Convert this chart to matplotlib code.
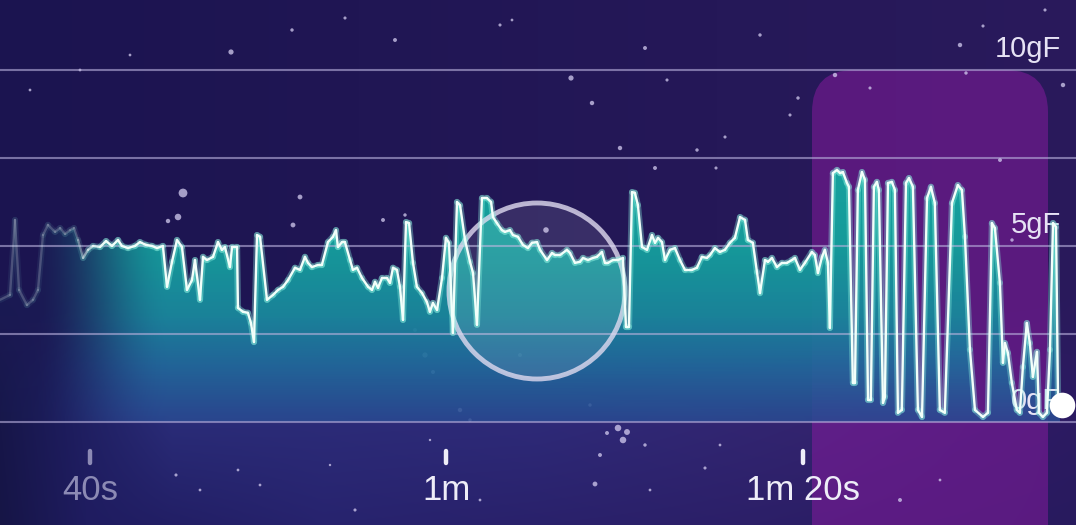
import numpy as np
import matplotlib
matplotlib.use("Agg")
import matplotlib.pyplot as plt
from matplotlib.patches import Polygon, FancyBboxPatch, Circle
from matplotlib.collections import LineCollection
from matplotlib.colors import to_rgb

# ---------------- data ----------------
time_s = [34.95, 35.51, 35.79, 36.02, 36.46, 36.80, 37.08, 37.36, 37.64, 38.04, 38.32, 38.60, 38.88, 39.10, 39.33,
          39.61, 39.89, 40.17, 40.56, 40.90, 41.23, 41.57, 41.79, 42.13, 42.52, 42.80, 43.14, 43.48, 43.76, 44.09,
          44.32, 44.60, 44.88, 45.16, 45.44, 45.72, 45.89, 46.17, 46.34, 46.56, 46.90, 47.18, 47.40, 47.57, 47.85,
          47.97, 48.25, 48.30, 48.58, 48.86, 49.03, 49.20, 49.37, 49.54, 49.93, 50.27, 50.55, 50.83, 51.11, 51.50,
          51.78, 52.06, 52.23, 52.45, 52.79, 53.01, 53.35, 53.63, 53.80, 53.91, 54.14, 54.30, 54.59, 54.75, 54.98,
          55.26, 55.60, 55.82, 55.99, 56.16, 56.38, 56.66, 56.83, 57.00, 57.22, 57.39, 57.56, 57.73, 57.90, 58.12,
          58.34, 58.63, 58.90, 59.07, 59.24, 59.47, 59.75, 59.97, 60.14, 60.36, 60.59, 60.76, 61.04, 61.32, 61.49,
          61.71, 61.99, 62.27, 62.50, 62.61, 62.83, 63.11, 63.28, 63.56, 63.73, 64.01, 64.29, 64.57, 64.80, 65.08,
          65.25, 65.64, 65.92, 66.09, 66.37, 66.76, 66.93, 67.21, 67.49, 67.66, 67.94, 68.22, 68.44, 68.72, 68.89,
          69.06, 69.34, 69.62, 69.90, 70.07, 70.24, 70.41, 70.57, 70.74, 70.97, 71.25, 71.53, 71.70, 71.87, 72.09,
          72.26, 72.54, 72.82, 73.10, 73.38, 73.77, 74.05, 74.33, 74.61, 74.78, 75.06, 75.34, 75.62, 75.90, 76.18,
          76.47, 76.75, 76.91, 77.19, 77.42, 77.59, 77.87, 78.04, 78.26, 78.54, 78.82, 79.10, 79.38, 79.55, 79.83,
          80.11, 80.50, 80.67, 80.84, 81.07, 81.23, 81.40, 81.51, 81.68, 81.91, 82.08, 82.24, 82.47, 82.58, 82.80,
          82.92, 83.08, 83.31, 83.48, 83.65, 83.81, 83.98, 84.15, 84.26, 84.49, 84.60, 84.77, 84.99, 85.16, 85.33,
          85.55, 85.78, 85.95, 86.17, 86.45, 86.68, 86.96, 87.18, 87.40, 87.68, 87.96, 88.36, 88.69, 88.92, 89.09,
          89.37, 89.65, 90.10, 90.38, 90.60, 90.77, 91.05, 91.22, 91.33, 91.50, 91.72, 92.00, 92.17, 92.34, 92.56,
          92.73, 92.90, 93.13, 93.24, 93.46, 93.69, 93.86, 94.03, 94.20, 94.31, 94.42]

force_gf = [3.47, 3.61, 5.74, 3.75, 3.32, 3.47, 3.75, 5.31, 5.60, 5.40, 5.51, 5.34, 5.45, 5.51, 5.17,
            4.66, 4.89, 5.00, 4.97, 5.14, 5.00, 5.17, 5.00, 4.94, 5.00, 5.11, 5.03, 5.00, 4.94, 5.00,
            3.84, 4.55, 5.17, 4.97, 3.75, 4.03, 4.60, 3.47, 4.69, 4.60, 4.69, 5.11, 4.89, 4.97, 4.40,
            4.97, 4.97, 3.24, 3.13, 3.10, 2.81, 2.27, 5.31, 5.26, 3.47, 3.61, 3.75, 3.84, 4.03, 4.38,
            4.32, 4.69, 4.52, 4.40, 4.46, 4.46, 5.11, 5.26, 5.45, 4.97, 5.11, 5.11, 4.60, 4.32, 4.38,
            4.09, 3.84, 3.75, 3.98, 3.81, 4.09, 4.09, 3.95, 4.38, 4.32, 3.84, 2.90, 5.68, 5.65, 4.52,
            3.84, 3.66, 3.41, 3.13, 3.38, 3.18, 4.09, 5.23, 5.09, 2.53, 6.25, 6.16, 5.17, 4.55, 4.23,
            2.76, 6.36, 6.36, 6.25, 5.82, 5.65, 5.45, 5.40, 5.45, 5.31, 5.26, 5.03, 4.94, 5.09, 5.11,
            4.89, 4.60, 4.80, 4.74, 4.74, 4.89, 4.80, 4.52, 4.55, 4.66, 4.60, 4.66, 4.69, 4.83, 4.52,
            4.52, 4.60, 4.60, 4.66, 2.70, 2.70, 6.53, 6.51, 6.16, 4.97, 4.89, 5.31, 5.09, 5.23, 5.11,
            4.60, 4.89, 4.94, 4.60, 4.32, 4.32, 4.38, 4.69, 4.66, 4.74, 4.94, 4.83, 4.89, 5.09, 5.23,
            5.82, 5.74, 5.17, 5.09, 4.26, 3.66, 4.60, 4.55, 4.66, 4.40, 4.52, 4.52, 4.60, 4.66, 4.32,
            4.52, 4.83, 4.74, 4.23, 4.69, 4.89, 4.52, 2.67, 7.07, 7.16, 7.07, 7.10, 6.79, 6.68, 1.11,
            1.11, 6.59, 7.10, 6.88, 0.63, 0.63, 6.68, 6.82, 6.59, 0.54, 0.71, 6.79, 6.82, 6.59, 0.26,
            0.34, 6.79, 6.93, 6.68, 0.34, 0.14, 6.36, 6.68, 6.22, 0.34, 0.26, 6.22, 6.73, 6.59, 5.26,
            2.05, 0.34, 0.14, 0.26, 5.65, 5.51, 3.95, 1.68, 2.24, 1.96, 1.11, 0.34, 0.26, 1.56, 2.81,
            2.24, 1.28, 1.99, 0.26, 0.14, 0.26, 2.05, 5.65, 5.54, 0.71, 0.54]

grid_levels = [0, 2.5, 5, 7.5, 10]
ylabel_levels = [0, 5, 10]
ylabel_text = ["0gF", "5gF", "10gF"]
xtick_pos = [40, 60, 80]
xtick_text = ["40s", "1m", "1m 20s"]
xtick_colors = ["#8c8ab4", "#eeedf8", "#eeedf8"]

# decorative star field (figure pixel x, y from top, size)
stars = [(183, 193, 40), (178, 217, 22), (168, 221, 10), (231, 52, 14), (292, 30, 6), (345, 18, 5),
         (395, 40, 8), (571, 78, 14), (592, 103, 10), (645, 48, 8), (667, 80, 5), (760, 35, 6),
         (798, 98, 6), (835, 75, 10), (870, 88, 5), (960, 45, 10), (983, 26, 5), (1045, 10, 5),
         (1063, 85, 10), (966, 73, 6), (620, 148, 10), (655, 168, 8), (697, 150, 6), (716, 168, 5),
         (725, 137, 5), (790, 115, 5), (300, 197, 12), (293, 225, 12), (383, 220, 8), (405, 215, 6),
         (415, 330, 8), (425, 355, 14), (433, 372, 8), (460, 410, 10), (470, 420, 6), (500, 25, 5),
         (80, 70, 4), (30, 90, 4), (130, 55, 4), (546, 230, 16), (520, 355, 8), (590, 405, 6),
         (618, 428, 22), (627, 432, 18), (623, 440, 22), (720, 445, 4), (705, 468, 5), (600, 455, 8),
         (595, 484, 12), (238, 470, 4), (260, 485, 4), (330, 465, 3), (355, 510, 5), (480, 500, 4),
         (650, 490, 4), (900, 500, 8), (1000, 160, 8), (200, 490, 4), (176, 475, 5), (1012, 240, 6),
         (645, 445, 6), (607, 433, 8), (430, 440, 3), (512, 20, 4), (850, 300, 5), (940, 480, 4)]

# ---------------- figure ----------------
W, H = 1076, 525
fig = plt.figure(figsize=(W / 100, H / 100), dpi=100)
ax = fig.add_axes([0, 0, 1, 1])
X0, X1 = 34.95, 95.32
Y0, Y1 = -2.93, 11.99
ax.set_xlim(X0, X1)
ax.set_ylim(Y0, Y1)
ax.axis("off")


def crgb(h):
    return np.array(to_rgb(h))


def row(us, hexes):
    cs = [crgb(h) for h in hexes]
    return np.stack([np.interp(u, us, [c[i] for c in cs]) for i in range(3)], -1)


# background gradient
u = np.linspace(0, 1, W)
v = np.linspace(1, 0, H)  # row 0 = top, v = 1 at top
top_row = row([0, 1], ['#1b1450', '#2a1a5c'])
mid_row = row([0, 0.06, 0.16, 0.5, 0.75, 1], ['#171649', '#1d1c5c', '#2a2c78', '#2e2a78', '#33246f', '#2c1a62'])
bot_row = row([0, 0.08, 0.3, 0.7, 1], ['#161546', '#1f1c60', '#27236e', '#2c1f68', '#281a5e'])
bg = np.zeros((H, W, 3))
v_line = 103 / 525.0
for j in range(H):
    vv = v[j]
    if vv >= v_line + 0.25:
        bg[j] = top_row
    elif vv >= v_line:
        w = (vv - v_line) / 0.25
        w = w * w * (3 - 2 * w)
        bg[j] = mid_row * (1 - w) + top_row * w
    else:
        w = vv / v_line
        bg[j] = bot_row * (1 - w) + mid_row * w
ax.imshow(bg, extent=[X0, X1, Y0, Y1], aspect="auto", zorder=0, interpolation="bilinear")

# stars
sx = [s[0] / W for s in stars]
sy = [1 - s[1] / H for s in stars]
ss = [s[2] for s in stars]
ax.scatter(sx, sy, s=ss, color="#d4cdf0", alpha=0.75, linewidths=0, transform=ax.transAxes, zorder=1.5)

# pink highlighted region
box = FancyBboxPatch((8.12, -0.6), 10.48 - 8.12, 4.55 + 0.6,
                     boxstyle="round,pad=0,rounding_size=0.42",
                     transform=fig.dpi_scale_trans, facecolor="#8c1ba2", alpha=0.5,
                     edgecolor="none", zorder=1)
ax.add_patch(box)

# filled area with gradient (down to 0 gF)
gx = np.linspace(X0, X1, 700)
gyv = np.linspace(Y1, 0, 500)
stops_g = [0, 1.5, 3, 5, 7.5]
stops_c = [crgb('#2a4a92'), crgb('#22689c'), crgb('#1a869c'), crgb('#159a9a'), crgb('#17a29e')]
stops_a = [0.85, 0.92, 0.97, 1.0, 1.0]
col = np.stack([np.interp(gyv, stops_g, [c[i] for c in stops_c]) for i in range(3)], -1)
av = np.interp(gyv, stops_g, stops_a)
hf = np.clip((gx - 36.8) / (44.5 - 36.8), 0, 1)
hf = 0.05 + 0.95 * hf * hf * (3 - 2 * hf)
rgba = np.zeros((len(gyv), len(gx), 4))
rgba[..., :3] = col[:, None, :]
rgba[..., 3] = av[:, None] * hf[None, :]
verts = [(time_s[0], 0)] + list(zip(time_s, force_gf)) + [(time_s[-1], 0)]
poly = Polygon(verts, closed=True, facecolor="none", edgecolor="none")
ax.add_patch(poly)
fim = ax.imshow(rgba, extent=[X0, X1, 0, Y1], aspect="auto", zorder=2, interpolation="bilinear")
fim.set_clip_path(poly)

# grid lines
for lv in grid_levels:
    ax.axhline(lv, color="#b8b0dc", alpha=0.6, lw=1.5, zorder=4)

# circle indicator
circ = Circle((5.37, 2.34), 0.88, transform=fig.dpi_scale_trans,
              facecolor=(1, 1, 1, 0.10), edgecolor=(0.88, 0.86, 0.94, 0.8), lw=3.5, zorder=4.5)
ax.add_patch(circ)

# y labels
for lv, lab in zip(ylabel_levels, ylabel_text):
    ax.text(94.5, lv + 0.37, lab, ha="right", va="baseline", fontsize=21,
            family="Liberation Sans", color="#e6e2f4", zorder=4.8)

# data line with left fade
pts = np.column_stack([time_s, force_gf])
segs = np.stack([pts[:-1], pts[1:]], axis=1)
mid_t = (pts[:-1, 0] + pts[1:, 0]) / 2
fade = 0.2 + 0.8 * np.clip((mid_t - 39.2) / (40.8 - 39.2), 0, 1)
glow = LineCollection(segs, colors=[(0.55, 0.95, 0.88, 0.35 * a) for a in fade], linewidths=4.5,
                      capstyle="round", joinstyle="round", zorder=5)
core = LineCollection(segs, colors=[(0.95, 1.0, 0.98, a) for a in fade], linewidths=1.7,
                      capstyle="round", joinstyle="round", zorder=5.5)
ax.add_collection(glow)
ax.add_collection(core)

# end marker
ax.scatter([time_s[-1] + 0.1], [force_gf[-1] - 0.05], s=340, color="white", zorder=7, linewidths=0)

# x ticks and labels
for pos, lab, colr in zip(xtick_pos, xtick_text, xtick_colors):
    ax.plot([pos, pos], [-0.82, -1.18], color=colr, lw=3.2, solid_capstyle="round", zorder=6)
    ax.text(pos, -2.22, lab, ha="center", va="baseline", fontsize=25,
            family="Liberation Sans", color=colr, zorder=6)

fig.savefig("out.png", dpi=100)
